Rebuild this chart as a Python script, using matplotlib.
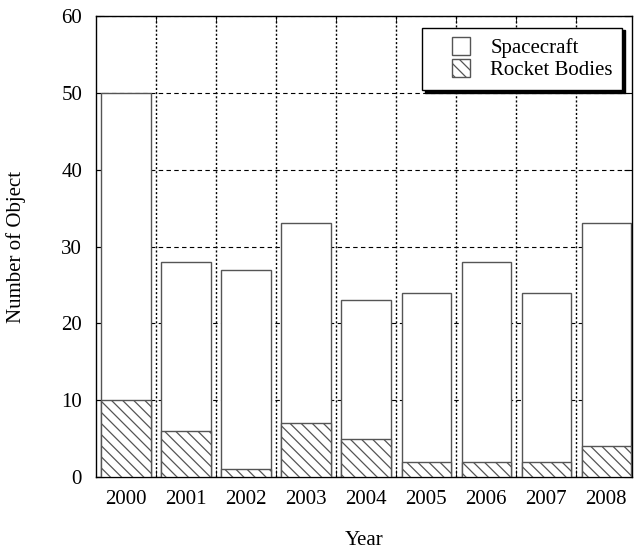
import numpy as np
import matplotlib.pyplot as plt
from matplotlib.patches import Patch, Rectangle
from matplotlib.legend_handler import HandlerPatch

# Objetos catalogados por ano
years = ["2000", "2001", "2002", "2003", "2004", "2005", "2006", "2007", "2008"]
spacecraft = [50, 28, 27, 33, 23, 24, 28, 24, 33]
rocket_bodies = [10, 6, 1, 7, 5, 2, 2, 2, 4]

plt.rcParams["font.family"] = ["Liberation Serif", "DejaVu Serif"]
plt.rcParams["hatch.color"] = "#555555"
plt.rcParams["hatch.linewidth"] = 0.9

fig = plt.figure(figsize=(6.34, 5.55), dpi=100)
ax = fig.add_axes([96 / 634, 1 - 477 / 555, 536 / 634, 461 / 555])

x = np.arange(len(years))
w = 0.82

# Barras sobrepostas: total em branco, corpos de foguete hachurados por cima
ax.bar(x, spacecraft, width=w, color="white", edgecolor="#555555", linewidth=1.0, zorder=2)
ax.bar(x, rocket_bodies, width=w, color="white", edgecolor="#555555", linewidth=1.0,
       hatch="\\\\\\", zorder=3)

ax.set_xlim(-0.5, 8.43)
ax.set_ylim(0, 60)
ax.set_yticks(range(0, 61, 10))
ax.set_xticks(x)
ax.set_xticklabels(years)
ax.set_xticks(np.arange(0.5, 8.5, 1), minor=True)

ax.tick_params(axis="x", which="major", length=0, labelsize=15, pad=9)
ax.tick_params(axis="x", which="minor", direction="in", length=5, top=True, bottom=True)
ax.tick_params(axis="y", direction="in", length=6, right=True, labelsize=15, pad=10)

# Grade: tracejada na horizontal, pontilhada na vertical
ax.grid(axis="y", which="major", color="black", linestyle=(0, (4, 3)), linewidth=0.8, zorder=0)
ax.grid(axis="x", which="minor", color="black", linestyle=(0, (1.5, 1.5)), linewidth=1.0, zorder=0)
ax.set_axisbelow(True)

for s in ax.spines.values():
    s.set_linewidth(1.0)

ax.set_xlabel("Year", fontsize=15)
ax.set_ylabel("Number of Object", fontsize=15)
ax.xaxis.set_label_coords(0.5, -0.118)
ax.yaxis.set_label_coords(-0.13, 0.5)


# Quadradinho da legenda deslocado para a direita dentro da caixa do handle
def quadrado(legend, orig_handle, xdescent, ydescent, width, height, fontsize):
    lado = height
    return Rectangle((-xdescent + width - lado, -ydescent), lado, lado)


handles = [Patch(facecolor="white", edgecolor="#555555", label="Spacecraft"),
           Patch(facecolor="white", edgecolor="#555555", hatch="\\\\\\", label="Rocket Bodies")]
leg = ax.legend(handles=handles, loc="upper right", bbox_to_anchor=(0.982, 0.975),
                borderaxespad=0, fontsize=15, fancybox=False, framealpha=1,
                edgecolor="black", handlelength=1.87, handleheight=0.96,
                handletextpad=0.96, labelspacing=0.05, borderpad=0.45,
                handler_map={Patch: HandlerPatch(patch_func=quadrado)},
                shadow={"color": "black", "alpha": 1})
leg.get_frame().set_linewidth(1.0)
leg.set_zorder(5)

plt.savefig("out.png", dpi=100)
plt.close()
